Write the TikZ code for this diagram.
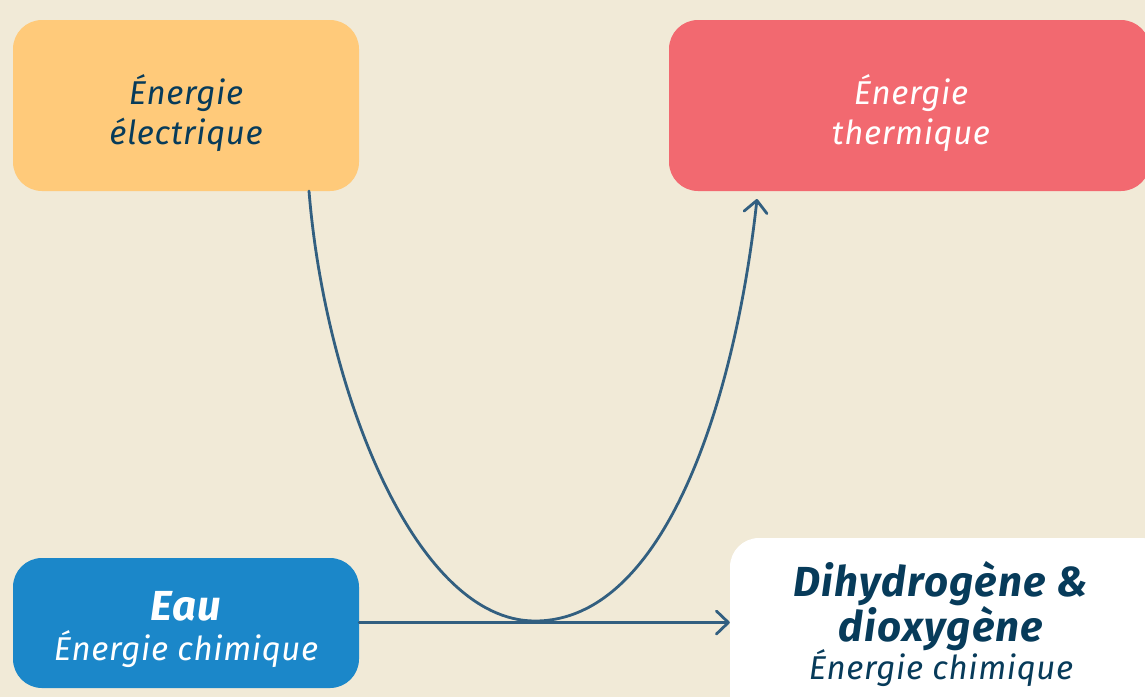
\documentclass[tikz,border=0pt]{standalone}
\usepackage{fontspec}
\usetikzlibrary{arrows.meta}
\setmainfont{Fira Sans}
\definecolor{bgc}{HTML}{F1EAD7}
\definecolor{orangec}{HTML}{FFCA7A}
\definecolor{redc}{HTML}{F26970}
\definecolor{bluec}{HTML}{1B87C9}
\definecolor{inkc}{HTML}{073B5A}
\definecolor{linec}{HTML}{325F80}
\newcommand{\reg}{\fontsize{33}{40}\selectfont\itshape\addfontfeatures{LetterSpace=2}}
\newcommand{\hvy}{\fontsize{42}{40}\selectfont\bfseries\itshape\addfontfeatures{LetterSpace=3}}
\tikzset{
  x=1pt,y=-1pt,
  box/.style={rounded corners=29pt,inner sep=0pt,align=center,anchor=center},
  lbl/.style={align=center,inner sep=0pt},
  conn/.style={draw=linec,line width=2.8pt,line cap=round},
  tip/.style={-{Straight Barb[length=12pt,width=23pt,line width=2.8pt,round]}}
}
\begin{document}
\begin{tikzpicture}
\useasboundingbox (0,0) rectangle (1145,697);
\clip (0,0) rectangle (1145,697);
\fill[bgc] (0,0) rectangle (1145,697);
\node[box,fill=orangec,minimum width=346pt,minimum height=171pt] (elec) at (186,105.5) {};
\node[lbl,text=inkc,font=\reg] (elect) at (186,113) {Énergie\\électrique};
\node[box,fill=redc,minimum width=481pt,minimum height=171pt] (therm) at (909.5,105.5) {};
\node[lbl,text=white,font=\reg] (thermt) at (911,113) {Énergie\\thermique};
\node[box,fill=bluec,minimum width=346pt,minimum height=130pt] (eau) at (186,623) {};
\node[lbl,text=white,font=\hvy] (eaut) at (186,606) {Eau};
\node[lbl,text=white,font=\reg] (eaus) at (186,649) {Énergie chimique};
\node[box,fill=white,minimum width=440pt,minimum height=200pt] (dihy) at (950,638) {};
\node[lbl,text=inkc,font=\hvy] (dihyt) at (941,606) {Dihydrogène \&\\dioxygène};
\node[lbl,text=inkc,font=\reg] (dihys) at (941,668) {Énergie chimique};
\coordinate (elecout) at (309,191);
\coordinate (thermin) at (757,199);
\coordinate (low) at (535,621);
\coordinate (mid) at (535,622.5);
\draw[conn,tip] (eau.east |- mid) -- (dihy.west |- mid);
\draw[conn,tip] (elecout) .. controls (325,390) and (415,621) .. (low) .. controls (665,621) and (735,400) .. (thermin);
\end{tikzpicture}
\end{document}
